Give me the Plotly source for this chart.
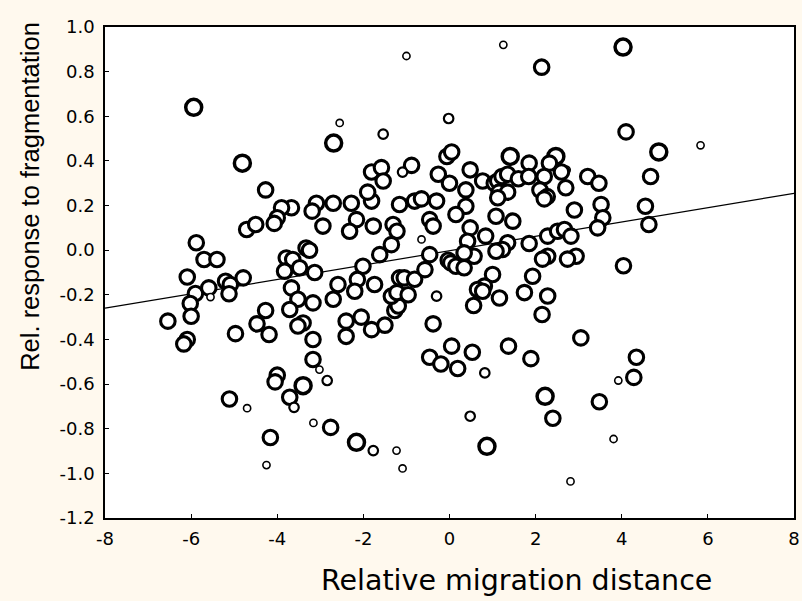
import plotly.graph_objects as go

# Relative migration distance (x), relative response to fragmentation (y), point weight class
mig = [
    -1.0, 1.25, 2.14, 4.03, -5.94, -2.55, -1.54, -0.02, -2.69, 4.1, 5.83, 4.86, -4.81,
    -0.06, 0.05, -1.81, -1.58, -1.54, -0.88, -1.09, -0.26, 0.0, 1.41, 0.48, 1.85, 2.47,
    2.32, 2.72, 3.21, 3.47, 0.77, 0.38, 1.04, 1.12, 1.22, 1.35, 1.6, 1.84, 2.2, 2.6, 2.7,
    2.1, 2.27, 1.15, 1.35, 4.67, -4.27,
    -3.09, -3.19, -2.7, -2.28, -1.81, -1.9, -1.16, -0.81, -0.65, -0.3, -3.67, -3.9, -4.0,
    -4.07, -2.94, -2.16, -2.32, -1.77, -1.31, -1.22, -0.46, -0.38, -0.65, -1.35, -1.62,
    -0.46, -0.03, -4.71, -4.5, 0.38, 0.15, 1.08, 1.47, 2.2, 1.12, 2.9, 3.52, 3.56, 3.44,
    0.48, 0.84, 0.42, 1.35, 1.23, 1.08, 1.85, 2.28, 2.51, 2.67, 2.82, 2.28, 2.16, 2.94,
    2.74, 0.57, 0.34, 0.03, 0.15, 0.34, 4.04, 4.55, 4.63,
    -5.88, -5.70, -5.40, -6.09, -5.9, -5.59, -5.55, -5.2, -5.09, -5.12, -4.79, -6.02,
    -6.0, -6.54, -6.09, -6.17, -4.97, -4.27, -4.47, -4.19,
    -3.33, -3.25, -3.79, -3.64, -3.48, -3.13, -3.83, -2.01, -2.59, -2.14, -2.2, -1.74,
    -2.7, -3.67, -3.52, -3.17, -3.71, -3.4, -3.52, -3.17, -3.17, -3.02, -4.0, -4.05,
    -2.4, -2.05, -2.4, -1.81, -1.5, -1.27, -1.19, -1.35, -1.22, -0.96, -1.16, -1.05,
    -0.81, -0.57, -0.3, -0.38, -0.46, -0.2, 0.05, 0.19, 0.53,
    1.0, 1.93, 0.81, 0.65, 0.77, 1.16, 1.74, 2.28, 0.56, 2.15, 3.05, 1.37, 1.89, 0.82,
    2.22, 3.48, 3.92, 2.4, 0.48, 0.87, 3.81, 2.81, 4.34, 4.28,
    -5.11, -4.7, -4.16, -4.25, -3.4, -3.71, -3.61, -2.84, -3.16, -2.76, -2.16, -1.77,
    -1.23, -1.09,
]
resp = [
    0.87, 0.92, 0.82, 0.91, 0.64, 0.57, 0.52, 0.59, 0.48, 0.53, 0.47, 0.44, 0.39,
    0.42, 0.44, 0.35, 0.37, 0.31, 0.38, 0.35, 0.34, 0.30, 0.42, 0.36, 0.39, 0.42,
    0.39, 0.36, 0.33, 0.30, 0.31, 0.27, 0.30, 0.31, 0.33, 0.34, 0.32, 0.33, 0.33, 0.35, 0.28,
    0.27, 0.24, 0.26, 0.26, 0.33, 0.27,
    0.21, 0.175, 0.21, 0.21, 0.22, 0.26, 0.205, 0.22, 0.23, 0.22, 0.19, 0.19, 0.145,
    0.12, 0.108, 0.137, 0.085, 0.108, 0.115, 0.085, 0.137, 0.108, 0.048, 0.025, -0.02,
    -0.02, -0.045, 0.093, 0.115, 0.197, 0.16, 0.152, 0.13, 0.23, 0.235, 0.18, 0.205, 0.145, 0.10,
    0.10, 0.063, 0.04, 0.033, 0.003, -0.005, 0.03, 0.063, 0.085, 0.093, 0.063, -0.027, -0.04, -0.027,
    -0.04, -0.027, -0.012, -0.057, -0.072, -0.079, -0.07, 0.197, 0.115,
    0.033, -0.042, -0.042, -0.12, -0.194, -0.169, -0.21, -0.139, -0.154, -0.195, -0.124, -0.239,
    -0.296, -0.318, -0.40, -0.42, -0.374, -0.27, -0.33, -0.378,
    0.01, 0.0, -0.035, -0.042, -0.079, -0.10, -0.094, -0.072, -0.154, -0.131, -0.184, -0.154,
    -0.22, -0.169, -0.22, -0.236, -0.266, -0.326, -0.34, -0.40, -0.49, -0.535, -0.56, -0.59,
    -0.318, -0.30, -0.386, -0.356, -0.336, -0.27, -0.25, -0.206, -0.19, -0.2, -0.124, -0.124,
    -0.13, -0.087, -0.206, -0.33, -0.48, -0.51, -0.43, -0.53, -0.457,
    -0.109, -0.117, -0.161, -0.176, -0.184, -0.214, -0.19, -0.205, -0.248, -0.288, -0.393, -0.43, -0.486, -0.55,
    -0.655, -0.679, -0.584, -0.753, -0.744, -0.879, -0.846, -1.036, -0.48, -0.57,
    -0.667, -0.708, -0.839, -0.963, -0.607, -0.659, -0.704, -0.584, -0.774, -0.794, -0.861, -0.898,
    -0.898, -0.978,
]
weight = [
    1, 1, 3, 4, 4, 1, 2, 2, 4, 3, 1, 4, 4,
    3, 3, 3, 3, 3, 3, 2, 3, 3, 4, 3, 3, 4,
    3, 1, 3, 3, 3, 3, 3, 3, 3, 3, 3, 3, 3, 3, 3,
    3, 3, 3, 3, 3, 3,
    3, 3, 3, 3, 3, 3, 3, 3, 3, 3, 3, 3, 3,
    3, 3, 3, 3, 3, 3, 3, 3, 3, 1, 3, 3,
    3, 3, 3, 3, 3, 3, 3, 3, 3, 3, 3, 3, 3, 3,
    3, 3, 3, 3, 3, 3, 3, 3, 3, 3, 3, 3, 3, 3,
    3, 3, 3, 3, 3, 3, 3, 3, 3,
    3, 3, 3, 3, 3, 3, 1, 3, 3, 3, 3, 3,
    3, 3, 3, 3, 3, 3, 3, 3,
    3, 3, 3, 3, 3, 3, 3, 3, 3, 3, 3, 3,
    3, 3, 3, 3, 3, 3, 3, 3, 3, 1, 3, 3,
    3, 3, 3, 3, 3, 3, 3, 3, 3, 3, 3, 3,
    3, 3, 2, 3, 3, 3, 3, 3, 3,
    3, 3, 3, 3, 3, 3, 3, 3, 3, 3, 3, 3, 3, 2,
    4, 3, 1, 3, 2, 4, 1, 1, 3, 3,
    3, 1, 3, 1, 4, 3, 2, 2, 1, 3, 4, 2,
    1, 1,
]

# Regression line endpoints (x range) and fitted values
fit_x = [-8, 8]
fit_y = [-0.26, 0.255]

x_ticks = [-8, -6, -4, -2, 0, 2, 4, 6, 8]
y_ticks = [-1.2, -1.0, -0.8, -0.6, -0.4, -0.2, 0.0, 0.2, 0.4, 0.6, 0.8, 1.0]
x_labels = ["-8", "-6", "-4", "-2", "0", "2", "4", "6", "8"]
y_labels = ["-1.2", "-1.0", "-0.8", "-0.6", "-0.4", "-0.2", "0.0", "0.2", "0.4", "0.6", "0.8", "1.0"]

x_title = "Relative migration distance"
y_title = "Rel. response to fragmentation"

size_map = {1: 7.2, 2: 9.5, 3: 14.5, 4: 16}
lw_map = {1: 1.6, 2: 2.2, 3: 3.1, 4: 3.5}

BG = "#FFF9EE"

fig = go.Figure()
fig.add_trace(go.Scatter(
    x=fit_x, y=fit_y, mode="lines",
    line=dict(color="black", width=1.2), hoverinfo="skip", showlegend=False,
))
fig.add_trace(go.Scatter(
    x=mig, y=resp, mode="markers", showlegend=False,
    marker=dict(
        symbol="circle", color="white", opacity=1,
        size=[size_map[w] for w in weight],
        line=dict(color="black", width=[lw_map[w] for w in weight]),
    ),
))

tick_font = dict(family="DejaVu Sans, sans-serif", size=18, color="black")
axis_common = dict(
    showgrid=False, zeroline=False, showline=True, linecolor="black", linewidth=1.5,
    mirror=True, ticks="inside", ticklen=4, tickwidth=1, tickcolor="black",
    tickfont=tick_font,
)
fig.update_xaxes(range=[-8, 8], tickvals=x_ticks, ticktext=x_labels, ticklabelstandoff=4, **axis_common)
fig.update_yaxes(range=[-1.2, 1.0], tickvals=y_ticks, ticktext=y_labels, ticklabelstandoff=5, **axis_common)

fig.add_annotation(
    text=x_title, xref="paper", yref="paper", x=0.597, y=-0.128,
    xanchor="center", yanchor="middle", showarrow=False,
    font=dict(family="DejaVu Sans, sans-serif", size=28.5, color="black"),
)
fig.add_annotation(
    text=y_title, xref="paper", yref="paper", x=-0.109, y=0.656, textangle=-90,
    xanchor="center", yanchor="middle", showarrow=False,
    font=dict(family="Liberation Sans, Arial, sans-serif", size=25.5, color="black"),
)

fig.update_layout(
    width=802, height=601,
    margin=dict(l=105, r=8, t=27, b=83, autoexpand=False),
    paper_bgcolor=BG, plot_bgcolor="white",
    font=dict(family="DejaVu Sans, sans-serif", color="black"),
)
fig.write_html(
    "out.html",
    config={"displayModeBar": False},
    post_script=(
        "document.body.style.margin='0';"
        "document.body.style.background='" + BG + "';"
        "document.documentElement.style.background='" + BG + "';"
    ),
)
